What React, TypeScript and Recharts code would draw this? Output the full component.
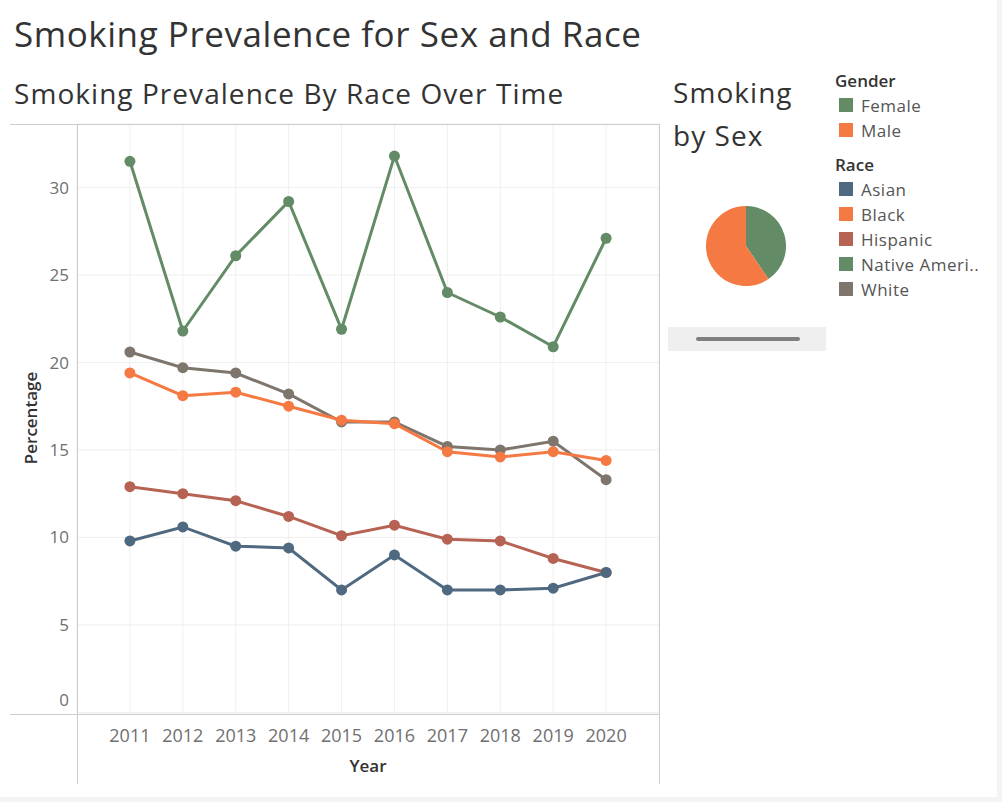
import React from 'react';
import { LineChart, Line, XAxis, YAxis, CartesianGrid, PieChart, Pie, Cell } from 'recharts';

// Survey years on the horizontal axis
const years = [2011, 2012, 2013, 2014, 2015, 2016, 2017, 2018, 2019, 2020];

// Smoking prevalence (%) by race
const asian = [9.8, 10.6, 9.5, 9.4, 7.0, 9.0, 7.0, 7.0, 7.1, 8.0];
const black = [19.4, 18.1, 18.3, 17.5, 16.7, 16.5, 14.9, 14.6, 14.9, 14.4];
const hispanic = [12.9, 12.5, 12.1, 11.2, 10.1, 10.7, 9.9, 9.8, 8.8, 8.0];
const nativeAmerican = [31.5, 21.8, 26.1, 29.2, 21.9, 31.8, 24.0, 22.6, 20.9, 27.1];
const white = [20.6, 19.7, 19.4, 18.2, 16.6, 16.6, 15.2, 15.0, 15.5, 13.3];

const percentTicks = [0, 5, 10, 15, 20, 25, 30];

// Share of smokers by sex
const genderNames = ['Female', 'Male'];
const genderShares = [40.5, 59.5];
const genderColors = ['#638b66', '#f47942'];

// Race legend order and palette
const raceNames = ['Asian', 'Black', 'Hispanic', 'Native Ameri..', 'White'];
const raceKeys = ['asian', 'black', 'hispanic', 'nativeAmerican', 'white'];
const raceColors = ['#4f6980', '#f47942', '#b66353', '#638b66', '#7e756d'];

const seriesByKey: Record<string, number[]> = { asian, black, hispanic, nativeAmerican, white };

const lineData = years.map((year, i) => {
  const row: Record<string, number> = { year };
  raceKeys.forEach((k) => {
    row[k] = seriesByKey[k][i];
  });
  return row;
});

const genderData = genderNames.map((name, i) => ({ name, value: genderShares[i] }));

// draw order: White first, Asian last (on top)
const drawOrder = [4, 3, 2, 1, 0];

const FONT = "'Open Sans', sans-serif";
const TICK_COLOR = '#6f6f6f';
const FRAME = '#cdcdcd';

const YTick = (props: any) => {
  const { x, y, payload } = props;
  const shift = payload.value === 0 ? -12 : 0;
  return (
    <text x={x} y={y + shift} dy="0.355em" textAnchor="end" fill={TICK_COLOR} fontSize={17} fontFamily={FONT}>
      {payload.value}
    </text>
  );
};

const XTick = (props: any) => {
  const { x, y, payload } = props;
  return (
    <text x={x} y={y} dy="0.71em" textAnchor="middle" fill={TICK_COLOR} fontSize={18} fontFamily={FONT}>
      {payload.value}
    </text>
  );
};

export default function App() {
  return (
    <div
      style={{
        position: 'absolute',
        left: 0,
        top: 0,
        width: 1002,
        height: 802,
        background: '#ffffff',
        fontFamily: FONT,
        overflow: 'hidden',
      }}
    >
      {/* page edges */}
      <div style={{ position: 'absolute', left: 997, top: 0, width: 5, height: 802, background: '#f4f4f4' }} />
      <div style={{ position: 'absolute', left: 0, top: 797, width: 1002, height: 5, background: '#f4f4f4' }} />

      <div style={{ position: 'absolute', left: 0, top: 0 }}>
        <LineChart
          width={680}
          height={800}
          data={lineData}
          margin={{ top: 124, right: 21, bottom: 56, left: 17 }}
        >
          <CartesianGrid stroke="#efefef" strokeWidth={1} />
          <XAxis
            dataKey="year"
            type="number"
            domain={[2010, 2021]}
            ticks={years}
            interval={0}
            axisLine={false}
            tickLine={false}
            tickSize={0}
            tickMargin={15}
            height={30}
            tick={<XTick />}
          />
          <YAxis
            type="number"
            domain={[-0.09, 33.63]}
            ticks={percentTicks}
            allowDataOverflow
            axisLine={false}
            tickLine={false}
            tickSize={0}
            tickMargin={8}
            width={60}
            tick={<YTick />}
          />
          {drawOrder.map((i) => (
            <Line
              key={raceKeys[i]}
              dataKey={raceKeys[i]}
              name={raceNames[i]}
              stroke={raceColors[i]}
              strokeWidth={3}
              dot={{ r: 5.5, fill: raceColors[i], stroke: 'none' }}
              activeDot={false}
              isAnimationActive={false}
            />
          ))}
        </LineChart>
      </div>

      <div style={{ position: 'absolute', left: 706, top: 206 }}>
        <PieChart width={80} height={80} margin={{ top: 0, right: 0, bottom: 0, left: 0 }}>
          <Pie
            data={genderData}
            dataKey="value"
            nameKey="name"
            cx="50%"
            cy="50%"
            outerRadius={40}
            startAngle={90}
            endAngle={-270}
            stroke="none"
            isAnimationActive={false}
          >
            {genderData.map((d, i) => (
              <Cell key={d.name} fill={genderColors[i]} />
            ))}
          </Pie>
        </PieChart>
      </div>

      {/* scroll bar below the pie */}
      <div style={{ position: 'absolute', left: 668, top: 327, width: 158, height: 24, background: '#efefef' }} />
      <div style={{ position: 'absolute', left: 696, top: 337, width: 104, height: 4, borderRadius: 2, background: '#7f7f7f' }} />

      <svg
        width={1002}
        height={802}
        style={{ position: 'absolute', left: 0, top: 0, pointerEvents: 'none' }}
      >
        {/* plot frame */}
        <line x1={10} x2={659.5} y1={124.5} y2={124.5} stroke={FRAME} />
        <line x1={10} x2={659.5} y1={714.5} y2={714.5} stroke={FRAME} />
        <line x1={77.5} x2={77.5} y1={124} y2={784} stroke={FRAME} />
        <line x1={659.5} x2={659.5} y1={124} y2={784} stroke={FRAME} />

        {/* titles */}
        <text x={14} y={47} fontSize={35} letterSpacing={0.55} fill="#333333" fontFamily={FONT}>
          Smoking Prevalence for Sex and Race
        </text>
        <text x={14} y={104} fontSize={28} letterSpacing={1.05} fill="#333333" fontFamily={FONT}>
          Smoking Prevalence By Race Over Time
        </text>
        <text x={673} y={103} fontSize={28} letterSpacing={1.05} fill="#333333" fontFamily={FONT}>
          Smoking
        </text>
        <text x={673} y={146} fontSize={28} letterSpacing={1.05} fill="#333333" fontFamily={FONT}>
          by Sex
        </text>

        {/* axis titles */}
        <text
          x={0}
          y={0}
          transform="translate(37,418) rotate(-90)"
          textAnchor="middle"
          fontSize={17}
          fontWeight={600}
          fill="#333333"
          fontFamily={FONT}
        >
          Percentage
        </text>
        <text x={368} y={772} textAnchor="middle" fontSize={17} fontWeight={600} fill="#333333" fontFamily={FONT}>
          Year
        </text>

        {/* legends */}
        <text x={835} y={87} fontSize={17} fontWeight={600} fill="#333333" fontFamily={FONT}>
          Gender
        </text>
        {genderNames.map((name, i) => (
          <g key={name}>
            <rect x={839} y={98 + i * 25} width={14} height={14} fill={genderColors[i]} />
            <text x={861} y={112 + i * 25} fontSize={17} letterSpacing={0.5} fill="#555555" fontFamily={FONT}>
              {name}
            </text>
          </g>
        ))}
        <text x={835} y={171} fontSize={17} fontWeight={600} fill="#333333" fontFamily={FONT}>
          Race
        </text>
        {raceNames.map((name, i) => (
          <g key={name}>
            <rect x={839} y={182 + i * 25} width={14} height={14} fill={raceColors[i]} />
            <text x={861} y={196 + i * 25} fontSize={17} letterSpacing={0.5} fill="#555555" fontFamily={FONT}>
              {name}
            </text>
          </g>
        ))}
      </svg>
    </div>
  );
}
